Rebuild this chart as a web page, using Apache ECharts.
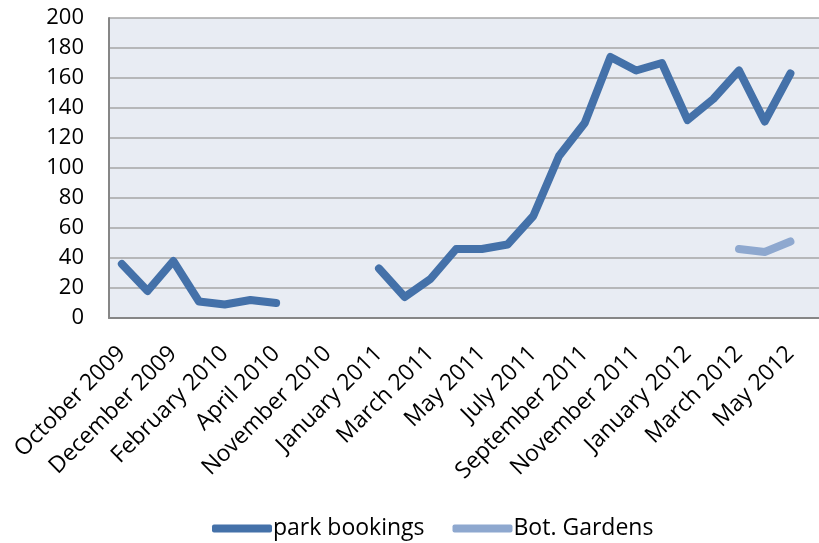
<!DOCTYPE html>
<html>
<head>
<meta charset="utf-8">
<script src="https://cdn.jsdelivr.net/npm/echarts@6/dist/echarts.min.js"></script>
<style>
  html, body { margin: 0; padding: 0; background: #fff; overflow: hidden; }
  /* plot area runs past the right edge of the picture, like the original */
  #chart { width: 829px; height: 543px; }
</style>
</head>
<body>
<div id="chart"></div>
<script>
// categories, one per month shown on the axis (only every other label is drawn)
const months = [
  'October 2009', 'November 2009', 'December 2009', 'January 2010', 'February 2010',
  'March 2010', 'April 2010', 'May 2010', 'November 2010', 'December 2010',
  'January 2011', 'February 2011', 'March 2011', 'April 2011', 'May 2011',
  'June 2011', 'July 2011', 'August 2011', 'September 2011', 'October 2011',
  'November 2011', 'December 2011', 'January 2012', 'February 2012', 'March 2012',
  'April 2012', 'May 2012', 'June 2012'
];

const parkBookings = [
  36, 18, 38, 11, 9, 12, 10, null, null, null,
  33, 14, 26, 46, 46, 49, 68, 108, 130, 174,
  165, 170, 132, 146, 165, 131, 163, null
];

const botGardens = [
  null, null, null, null, null, null, null, null, null, null,
  null, null, null, null, null, null, null, null, null, null,
  null, null, null, null, 46, 44, 51, null
];

const colors = ['#4471a9', '#8ea8cf'];

const chart = echarts.init(document.getElementById('chart'));
chart.setOption({
  animation: false,
  color: colors,
  textStyle: { fontFamily: 'Open Sans', color: '#000' },
  grid: {
    left: 109,
    top: 18,
    right: 0,
    bottom: 225,
    show: true,
    backgroundColor: '#e8ecf3',
    borderWidth: 0,
  },
  legend: {
    top: 512,
    left: 207,
    icon: 'roundRect',
    itemWidth: 60,
    itemHeight: 8,
    itemGap: 28,
    textStyle: { fontSize: 23, color: '#000', fontFamily: 'Open Sans', padding: [0, 0, 0, -4] },
    data: ['park bookings', 'Bot. Gardens'],
  },
  xAxis: {
    type: 'category',
    data: months,
    boundaryGap: true,
    axisLine: { show: true, lineStyle: { color: '#868686', width: 2 } },
    axisTick: { show: false },
    axisLabel: {
      interval: 1,
      rotate: 45,
      margin: 32,
      fontSize: 23,
      color: '#000',
    },
  },
  yAxis: {
    type: 'value',
    min: 0,
    max: 200,
    interval: 20,
    axisLine: { show: true, lineStyle: { color: '#868686', width: 2 } },
    axisTick: { show: false },
    axisLabel: { margin: 25, fontSize: 22, color: '#000' },
    splitLine: { lineStyle: { color: '#a6a6a6', width: 1.5 } },
  },
  series: [
    {
      name: 'park bookings',
      type: 'line',
      data: parkBookings,
      showSymbol: false,
      connectNulls: false,
      lineStyle: { width: 8, cap: 'round', join: 'round' },
    },
    {
      name: 'Bot. Gardens',
      type: 'line',
      data: botGardens,
      showSymbol: false,
      connectNulls: false,
      lineStyle: { width: 8, cap: 'round', join: 'round' },
    },
  ],
});
</script>
</body>
</html>
